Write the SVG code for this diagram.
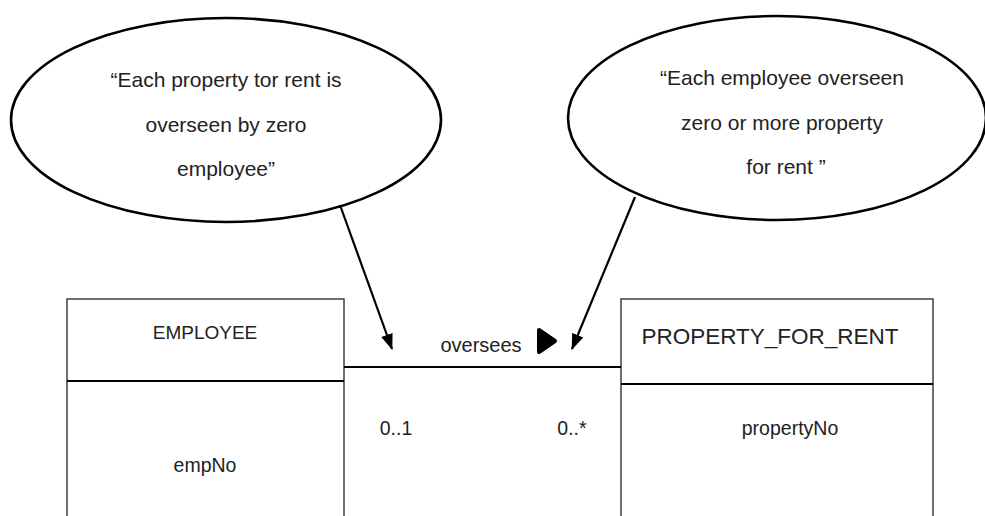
<svg xmlns="http://www.w3.org/2000/svg" width="985" height="516" viewBox="0 0 985 516">
  <style>
    text { font-family: "Liberation Sans", Arial, sans-serif; fill: #222; text-anchor: middle; }
    .note { font-size: 21px; }
    .bubble { fill: #fff; stroke: #000; stroke-width: 2.6; }
    .box { fill: #fff; stroke: #333; stroke-width: 1.4; }
    .rule { stroke: #000; stroke-width: 2.2; fill: none; }
    .lead { stroke: #000; stroke-width: 2.2; fill: none; }
  </style>
  <defs>
    <filter id="soft" x="-5%" y="-200%" width="110%" height="500%">
      <feGaussianBlur stdDeviation="2.2"/>
    </filter>
    <marker id="head" viewBox="0 0 16 12" refX="15" refY="6" markerWidth="16" markerHeight="12" markerUnits="userSpaceOnUse" orient="auto">
      <path d="M0,0 L16,6 L0,12 Z" fill="#000"/>
    </marker>
  </defs>

  <g id="note-employee">
    <ellipse class="bubble" cx="226" cy="120" rx="215" ry="102"/>
    <text class="note" x="226" y="87">“Each property tor rent is</text>
    <text class="note" x="226" y="132">overseen by zero</text>
    <text class="note" x="226" y="176">employee”</text>
  </g>

  <g id="note-property">
    <ellipse class="bubble" cx="777" cy="118" rx="209" ry="102"/>
    <text class="note" x="782" y="85">“Each employee overseen</text>
    <text class="note" x="782" y="130">zero or more property</text>
    <text class="note" x="786" y="174">for rent ”</text>
  </g>

  <g id="employee">
    <rect class="box" x="67" y="299" width="277" height="230"/>
    <line x1="67" y1="385" x2="344" y2="385" stroke="#aaa" stroke-width="3" filter="url(#soft)"/>
    <line class="rule" x1="67" y1="381" x2="344" y2="381"/>
    <text x="205" y="339" font-size="19">EMPLOYEE</text>
    <text x="205" y="472" font-size="19.5">empNo</text>
  </g>

  <g id="property-for-rent">
    <rect class="box" x="621" y="299" width="312" height="230"/>
    <line x1="621" y1="388" x2="933" y2="388" stroke="#aaa" stroke-width="3" filter="url(#soft)"/>
    <line class="rule" x1="621" y1="384" x2="933" y2="384"/>
    <text x="770" y="344" font-size="22.5">PROPERTY_FOR_RENT</text>
    <text x="790" y="435" font-size="19.5">propertyNo</text>
  </g>

  <g id="connectors">
    <line x1="344" y1="371" x2="621" y2="371" stroke="#aaa" stroke-width="3" filter="url(#soft)"/>
    <line class="rule" x1="344" y1="367" x2="621" y2="367" stroke-width="2.4"/>
    <text x="481" y="352" font-size="20">oversees</text>
    <polygon points="539,330 555,341 539,352" fill="#000" stroke="#000" stroke-width="4" stroke-linejoin="round"/>
    <text x="396" y="435" font-size="19.5">0..1</text>
    <text x="572" y="435" font-size="19.5">0..*</text>
    <line class="lead" x1="340" y1="205" x2="392" y2="349" marker-end="url(#head)"/>
    <line class="lead" x1="635" y1="197" x2="572" y2="349" marker-end="url(#head)"/>
  </g>
</svg>
